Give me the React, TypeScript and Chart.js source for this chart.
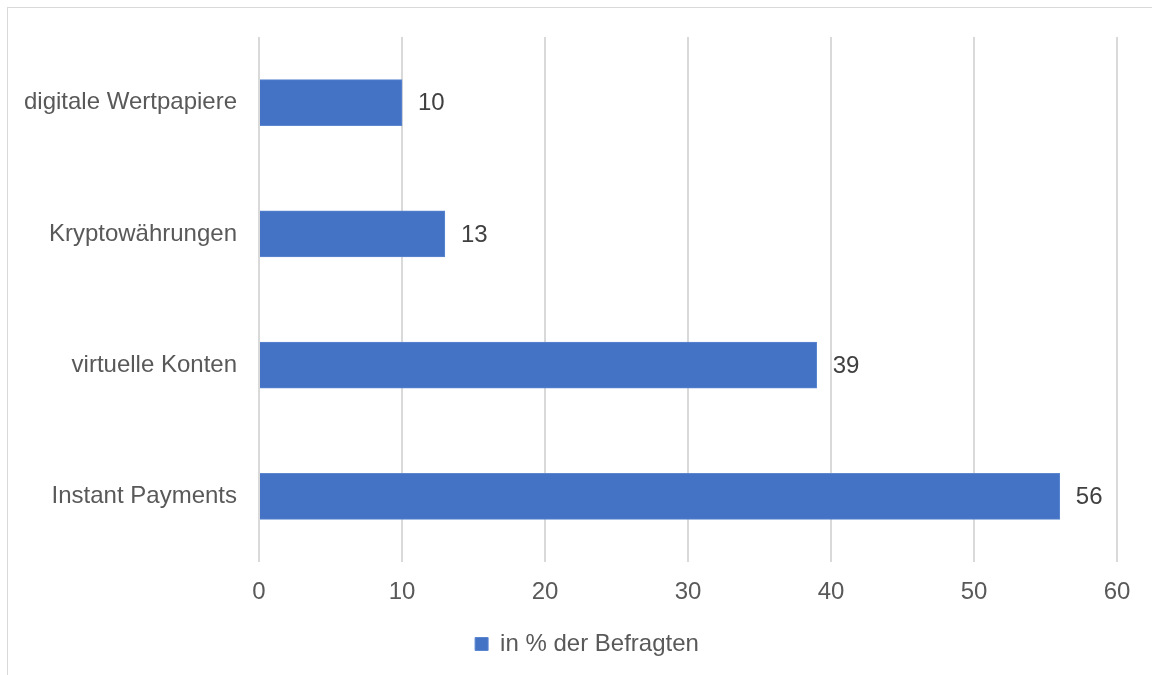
import React, { useEffect, useRef } from "react";
import { Chart, registerables } from "chart.js";

Chart.register(...registerables);

const categories = ["digitale Wertpapiere", "Kryptowährungen", "virtuelle Konten", "Instant Payments"];
const values = [10, 13, 39, 56];
const seriesLabel = "in % der Befragten";
const xTicks = [0, 10, 20, 30, 40, 50, 60];

const FONT = "'Liberation Sans', Arial, sans-serif";

const dataLabelPlugin = {
  id: "dataLabels",
  afterDatasetsDraw(chart: any) {
    const ctx = chart.ctx;
    const meta = chart.getDatasetMeta(0);
    ctx.save();
    ctx.font = `24px ${FONT}`;
    ctx.fillStyle = "#404040";
    ctx.textAlign = "left";
    ctx.textBaseline = "middle";
    meta.data.forEach((bar: any, i: number) => {
      ctx.fillText(String(values[i]), bar.x + 16, bar.y + 1);
    });
    ctx.restore();
  },
};

export default function App() {
  const ref = useRef<HTMLCanvasElement | null>(null);
  useEffect(() => {
    if (!ref.current) return;
    const chart = new Chart(ref.current, {
      type: "bar",
      data: {
        labels: categories,
        datasets: [
          {
            label: seriesLabel,
            data: values,
            backgroundColor: "#4472C4",
            borderColor: "#5B87D0",
            borderWidth: 1,
            barThickness: 46,
          },
        ],
      },
      options: {
        indexAxis: "y",
        animation: false,
        responsive: false,
        layout: { padding: { left: 0, right: 0, top: 29, bottom: 8 } },
        scales: {
          x: {
            min: 0,
            max: 60,
            afterBuildTicks: (scale: any) => {
              scale.ticks = xTicks.map((v) => ({ value: v }));
            },
            afterFit: (scale: any) => {
              scale.height = 60;
              scale.paddingRight = 49;
              scale.paddingLeft = 0;
            },
            grid: { color: "#d9d9d9", lineWidth: 2, drawTicks: false },
            border: { display: false },
            ticks: { color: "#595959", font: { family: FONT, size: 24 }, padding: 16 },
          },
          y: {
            afterFit: (scale: any) => {
              scale.width = 251;
              scale.paddingTop = 0;
              scale.paddingBottom = 0;
            },
            grid: { display: false, drawTicks: false },
            border: { display: false },
            ticks: { color: "#595959", font: { family: FONT, size: 24 }, padding: 22 },
          },
        },
        plugins: {
          legend: {
            position: "bottom",
            labels: {
              color: "#595959",
              font: { family: FONT, size: 24 },
              boxWidth: 13,
              boxHeight: 13,
              padding: 10,
            },
          },
          tooltip: { enabled: false },
        },
      },
      plugins: [dataLabelPlugin],
    } as any);
    return () => chart.destroy();
  }, []);

  return (
    <div
      style={{
        position: "fixed",
        left: 7,
        top: 7,
        width: 1160,
        height: 700,
        boxSizing: "border-box",
        border: "1px solid #d9d9d9",
        background: "#fff",
      }}
    >
      <canvas ref={ref} width={1158} height={666} style={{ display: "block" }} />
    </div>
  );
}
